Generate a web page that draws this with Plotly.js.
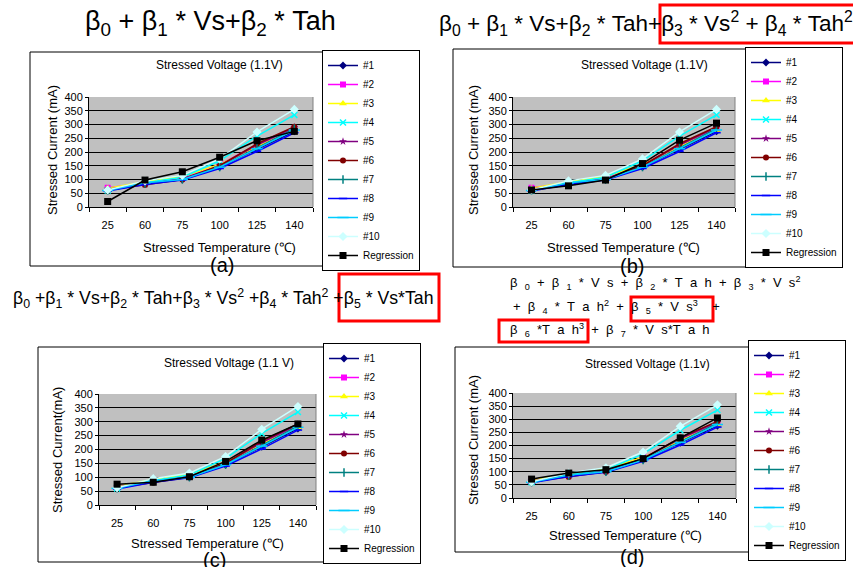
<!DOCTYPE html>
<html>
<head>
<meta charset="utf-8">
<script src="https://cdn.plot.ly/plotly-3.0.1.min.js"></script>
<style>html,body{margin:0;padding:0;background:#fff;}#chart{width:853px;height:567px;}</style>
</head>
<body>
<div id="chart"></div>
<script>
// ---- data ----
const temps = ['25', '60', '75', '100', '125', '140'];
const seriesNames = ['#1', '#2', '#3', '#4', '#5', '#6', '#7', '#8', '#9', '#10'];
const s1  = [62, 85, 100, 145, 210, 275];
const s2  = [70, 86, 105, 155, 225, 285];
const s3  = [68, 92, 110, 155, 220, 280];
const s4  = [60, 88, 108, 168, 258, 335];
const s5  = [65, 83, 102, 150, 225, 290];
const s6  = [62, 80, 100, 150, 230, 292];
const s7  = [60, 85, 100, 145, 215, 285];
const s8  = [58, 82, 98, 140, 202, 270];
const s9  = [60, 88, 100, 145, 212, 280];
const s10 = [62, 95, 115, 175, 273, 355];
const regA = [20, 98, 128, 181, 241, 275];
const regB = [62, 77, 98, 158, 243, 305];
const regC = [75, 82, 102, 157, 234, 292];
const regD = [72, 95, 108, 150, 229, 305];
const measured = [s1, s2, s3, s4, s5, s6, s7, s8, s9, s10];
const regressions = [regA, regB, regC, regD];
const panelTitles = ['Stressed Voltage (1.1V)', 'Stressed Voltage (1.1V)', 'Stressed Voltage (1.1 V)', 'Stressed Voltage (1.1v)'];
const yTitles = ['Stressed Current (mA)', 'Stressed Current (mA)', 'Stressed Current(mA)', 'Stressed Current (mA)'];
const xTitle = 'Stressed Temperature (\u2103)';
const panelLabels = ['(a)', '(b)', '(c)', '(d)'];

// ---- styles ----
const FONT = 'Liberation Sans, Arial, sans-serif';
const W = 853, H = 567;
const px = x => x / W, py = y => 1 - y / H;
const styles = [
  {color: '#000080', symbol: 'diamond', size: 6},
  {color: '#FF00FF', symbol: 'square', size: 6},
  {color: '#FFFF00', symbol: 'triangle-up', size: 7},
  {color: '#00FFFF', symbol: 'x-thin-open', size: 6, open: true},
  {color: '#800080', symbol: 'star', size: 6},
  {color: '#800000', symbol: 'circle', size: 6},
  {color: '#008080', symbol: 'line-ns-open', size: 6, open: true},
  {color: '#0000FF', symbol: 'line-ew-open', size: 6, open: true},
  {color: '#00CCFF', symbol: 'line-ew-open', size: 8, open: true},
  {color: '#CCFFFF', symbol: 'diamond', size: 7}
];

// panel geometry (pixels)
const panels = [
  {plot: [89, 97, 313, 207], legend: [322, 50]},
  {plot: [513, 97, 735, 207], legend: [745, 47]},
  {plot: [99, 394, 316, 505], legend: [323, 343]},
  {plot: [513, 393, 736, 498], legend: [748, 340]}
];

const traces = [];
const layout = {
  width: W, height: H,
  margin: {l: 0, r: 0, t: 0, b: 0},
  paper_bgcolor: '#ffffff',
  plot_bgcolor: '#c0c0c0',
  font: {family: FONT, color: '#000', size: 11},
  showlegend: true,
  annotations: [],
  shapes: []
};

panels.forEach((p, k) => {
  const n = k + 1;
  const xa = 'x' + (k ? n : ''), ya = 'y' + (k ? n : '');
  const lg = 'legend' + (k ? n : '');
  measured.forEach((vals, i) => {
    const st = styles[i];
    traces.push({
      type: 'scatter', mode: 'lines+markers',
      x: temps, y: vals, name: seriesNames[i],
      xaxis: xa, yaxis: ya, legend: lg,
      line: {color: st.color, width: 1.5},
      marker: {color: st.color, symbol: st.symbol, size: st.size,
               line: {color: st.color, width: st.open ? 1.5 : 0}}
    });
  });
  traces.push({
    type: 'scatter', mode: 'lines+markers',
    x: temps, y: regressions[k], name: 'Regression',
    xaxis: xa, yaxis: ya, legend: lg,
    line: {color: '#000000', width: 1.5},
    marker: {color: '#000000', symbol: 'square', size: 7}
  });
  const [x0, y0, x1, y1] = p.plot;
  layout['xaxis' + (k ? n : '')] = {
    domain: [px(x0), px(x1)], anchor: ya,
    type: 'category', categoryorder: 'array', categoryarray: temps,
    range: [-0.5, 5.5], tickson: 'boundaries',
    ticks: 'outside', ticklen: 4, tickcolor: '#000',
    showline: true, linecolor: '#000', linewidth: 1,
    showgrid: false, zeroline: false,
    tickfont: {size: 11, family: FONT}, ticklabelstandoff: 8,
    fixedrange: true
  };
  layout['yaxis' + (k ? n : '')] = {
    domain: [py(y1), py(y0)], anchor: xa,
    range: [0, 400], dtick: 50, tick0: 0,
    ticks: 'outside', ticklen: 3, tickcolor: '#000',
    showline: true, linecolor: '#000', linewidth: 1,
    showgrid: true, gridcolor: '#000', gridwidth: 1,
    zeroline: false, tickfont: {size: 11, family: FONT},
    fixedrange: true
  };
  layout[lg] = {
    x: px(p.legend[0]), y: py(p.legend[1]), xanchor: 'left', yanchor: 'top',
    bgcolor: '#ffffff', bordercolor: '#000', borderwidth: 1,
    font: {size: 10, family: FONT}, itemwidth: 30, traceorder: 'normal'
  };
  // right border of plot area
  layout.shapes.push({type: 'line', xref: xa + ' domain', yref: ya + ' domain',
    x0: 1, x1: 1, y0: 0, y1: 1, line: {color: '#808080', width: 1}});
});

// outer panel frames
const frames = [[30, 52, 412, 266], [453, 49, 835, 267], [38, 347, 418, 562], [455, 347, 838, 552]];
frames.forEach(f => layout.shapes.push({type: 'rect', xref: 'paper', yref: 'paper',
  x0: px(f[0]), x1: px(f[2]), y0: py(f[3]), y1: py(f[1]), line: {color: '#000', width: 1}, layer: 'below'}));
// red highlight boxes
const redBoxes = [[660, 5, 880, 43], [339, 274, 439, 321], [631, 297, 713, 321], [499, 320, 588, 342]];
redBoxes.forEach(f => layout.shapes.push({type: 'rect', xref: 'paper', yref: 'paper',
  x0: px(f[0]), x1: px(f[2]), y0: py(f[3]), y1: py(f[1]), line: {color: '#FF0000', width: 3}}));

function ann(text, x, y, size, opts) {
  layout.annotations.push(Object.assign({
    text: text, x: px(x), y: py(y), xref: 'paper', yref: 'paper',
    showarrow: false, xanchor: 'center', yanchor: 'middle',
    font: {size: size, family: FONT, color: '#000'}
  }, opts || {}));
}
// panel titles, axis titles, labels
const titlePos = [[220, 65], [644, 65], [229, 363], [647, 364]];
const yTitlePos = [[52, 150], [473, 150], [57, 450], [473, 440]];
const xTitlePos = [[220, 247], [623, 247], [207, 543], [625, 535]];
const labelPos = [[222, 265], [632, 266], [214, 560], [632, 557]];
for (let k = 0; k < 4; k++) {
  ann(panelTitles[k], titlePos[k][0], titlePos[k][1], 12);
  ann(yTitles[k], yTitlePos[k][0], yTitlePos[k][1], 13, {textangle: -90});
  ann(xTitle, xTitlePos[k][0], xTitlePos[k][1], 13);
  ann(panelLabels[k], labelPos[k][0], labelPos[k][1], 20);
}
// equations
ann('β<sub>0</sub> + β<sub>1</sub> * Vs+β<sub>2</sub> * Tah', 210, 23, 27);
ann('β<sub>0</sub> + β<sub>1</sub> * Vs+β<sub>2</sub> * Tah+β<sub>3</sub> * Vs<sup>2</sup> + β<sub>4</sub> * Tah<sup>2</sup>', 437, 23, 22.5, {xanchor: 'left'});
ann('β<sub>0</sub> +β<sub>1</sub> * Vs+β<sub>2</sub> * Tah+β<sub>3</sub> * Vs<sup>2</sup> +β<sub>4</sub> * Tah<sup>2</sup> +β<sub>5</sub> * Vs*Tah', 11, 298, 17.7, {xanchor: 'left'});
const sp = '\u00a0 ';
ann(['β', '<sub>0</sub>', '+', 'β', '<sub>1</sub>', '*', 'V', 's', '+', 'β', '<sub>2</sub>', '*', 'T', 'a', 'h', '+', 'β', '<sub>3</sub>', '*', 'V', 's<sup>2</sup>'].join(sp), 508, 283, 13, {xanchor: 'left'});
ann(['+', 'β', '<sub>4</sub>', '*', 'T', 'a', 'h<sup>2</sup>', '+', 'β', '<sub>5</sub>', '*', 'V', 's<sup>3</sup>', '\u00a0\u00a0+'].join(sp), 511, 307, 13, {xanchor: 'left'});
ann(['β', '<sub>6</sub>', '*T', 'a', 'h<sup>3</sup>', '+', 'β', '<sub>7</sub>', '*', 'V', 's*T', 'a', 'h'].join(sp), 508, 330, 13, {xanchor: 'left'});

Plotly.newPlot('chart', traces, layout, {displayModeBar: false, staticPlot: true});
</script>
</body>
</html>
